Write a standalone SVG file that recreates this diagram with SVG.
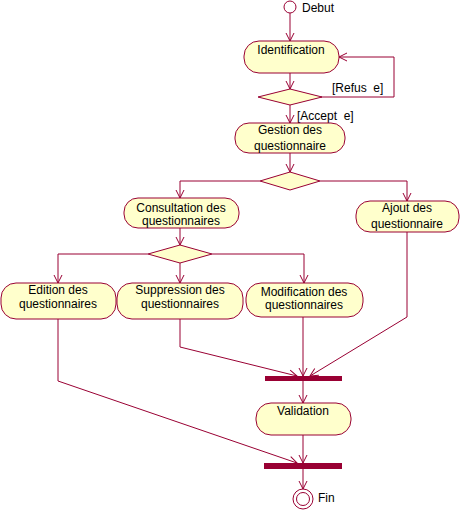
<svg xmlns="http://www.w3.org/2000/svg" width="461" height="512" viewBox="0 0 461 512">
<style>
.n{fill:#FFFFCC;stroke:#990033;stroke-width:1}
.e{fill:none;stroke:#990033;stroke-width:1;marker-end:url(#a)}
.b{fill:#990033}
text{font-family:"Liberation Sans",Arial,sans-serif;font-size:12px;fill:#000;text-anchor:middle}
.l{text-anchor:start;white-space:pre}
</style>
<defs>
<marker id="a" markerUnits="userSpaceOnUse" markerWidth="10" markerHeight="10" refX="8" refY="4" orient="auto" overflow="visible">
<path d="M0,0 L8,4 L0,8" fill="none" stroke="#990033" stroke-width="1"/>
</marker>
</defs>
<rect width="461" height="512" fill="#fff"/>
<g id="connectors">
<path class="e" d="M290,13 L290,41"/>
<path class="e" d="M290,73 L290,89"/>
<path class="e" d="M320,97 L394,97 L394,57 L339,57"/>
<path class="e" d="M290,105 L290,123"/>
<path class="e" d="M290,153 L290,172"/>
<path class="e" d="M260,181 L180,181 L180,198"/>
<path class="e" d="M320,181 L407,181 L407,201"/>
<path class="e" d="M180,228 L180,245"/>
<path class="e" d="M148,254 L58,254 L58,283"/>
<path class="e" d="M180,263 L180,283"/>
<path class="e" d="M212,254 L304,254 L304,283"/>
<path class="e" d="M58,319 L58,381 L297,463"/>
<path class="e" d="M180,319 L180,347 L297,376"/>
<path class="e" d="M303,317 L303,376"/>
<path class="e" d="M407,232 L407,317 L310,376"/>
<path class="e" d="M303,381 L303,403"/>
<path class="e" d="M303,435 L303,463"/>
<path class="e" d="M303,469 L303,489"/>
<text class="l" x="332" y="92" xml:space="preserve">[Refus  e]</text>
<text class="l" x="297" y="120" xml:space="preserve">[Accept  e]</text>
</g>
<g id="debut">
<circle cx="290" cy="7" r="6" fill="#fff" stroke="#990033"/>
<text class="l" x="302" y="12">Debut</text>
</g>
<g id="identification">
<rect class="n" x="244" y="41" width="95" height="32" rx="15"/>
<text x="291" y="54">Identification</text>
</g>
<g id="decision1"><polygon class="n" points="258,97 290,89 322,97 290,105"/></g>
<g id="gestion">
<rect class="n" x="235" y="123" width="110" height="30" rx="14"/>
<text x="290" y="134">Gestion des</text>
<text x="290" y="150">questionnaire</text>
</g>
<g id="decision2"><polygon class="n" points="260,181 290,172 320,181 290,190"/></g>
<g id="consultation">
<rect class="n" x="124" y="198" width="115" height="30" rx="14"/>
<text x="181" y="212">Consultation des</text>
<text x="181" y="225">questionnaires</text>
</g>
<g id="ajout">
<rect class="n" x="356" y="201" width="103" height="31" rx="14"/>
<text x="407" y="212">Ajout des</text>
<text x="407" y="228">questionnaire</text>
</g>
<g id="decision3"><polygon class="n" points="148,254 180,245 212,254 180,263"/></g>
<g id="edition">
<rect class="n" x="1" y="283" width="115" height="36" rx="15"/>
<text x="58" y="294">Edition des</text>
<text x="58" y="308">questionnaires</text>
</g>
<g id="suppression">
<rect class="n" x="117" y="283" width="126" height="36" rx="15"/>
<text x="180" y="294">Suppression des</text>
<text x="180" y="308">questionnaires</text>
</g>
<g id="modification">
<rect class="n" x="246" y="283" width="117" height="34" rx="15"/>
<text x="304" y="296">Modification des</text>
<text x="304" y="309">questionnaires</text>
</g>
<g id="join1"><rect class="b" x="265" y="376" width="77" height="5"/></g>
<g id="validation">
<rect class="n" x="256" y="403" width="95" height="32" rx="15"/>
<text x="303" y="415">Validation</text>
</g>
<g id="join2"><rect class="b" x="264" y="463" width="78" height="6"/></g>
<g id="fin">
<circle cx="303" cy="499" r="10" fill="#fff" stroke="#990033"/>
<circle cx="303" cy="499" r="6.5" fill="#fff" stroke="#990033"/>
<text class="l" x="318" y="502">Fin</text>
</g>
</svg>
